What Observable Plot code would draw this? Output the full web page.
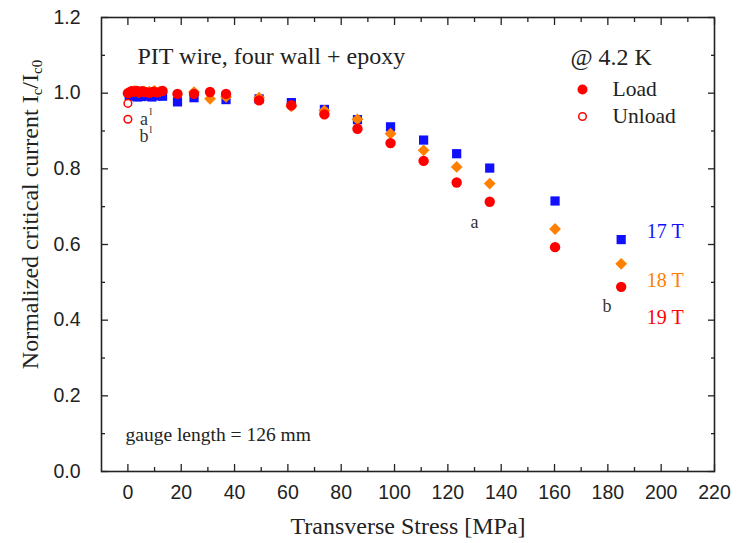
<!DOCTYPE html>
<html>
<head>
<meta charset="utf-8">
<script src="https://cdn.jsdelivr.net/npm/d3@7"></script>
<script src="https://cdn.jsdelivr.net/npm/@observablehq/plot@0.6"></script>
<style>
  body { margin: 0; background: #fff; }
  #chart svg { display: block; }
</style>
</head>
<body>
<div id="chart"></div>
<script>
// Normalized critical current vs. transverse stress, PIT wire (four wall + epoxy), 4.2 K

// 17 T (load)
const stress17 = [0.5, 2, 3.5, 5, 7, 9, 11, 13, 18.6, 24.8, 36.8, 49.2, 61.3, 73.7, 86.1, 98.5, 110.9, 123.3, 135.7, 160.2, 185.0];
const ic17     = [0.994, 0.992, 0.990, 0.991, 0.992, 0.990, 0.993, 0.992, 0.977, 0.988, 0.983, 0.985, 0.975, 0.957, 0.930, 0.911, 0.876, 0.840, 0.802, 0.715, 0.613];

// 18 T (load)
const stress18 = [1, 2.5, 4, 6, 8, 10, 12, 24.8, 30.8, 36.8, 49.2, 61.3, 73.7, 86.1, 98.5, 110.9, 123.3, 135.7, 160.2, 185.0];
const ic18     = [1.004, 1.006, 1.003, 1.005, 1.004, 1.006, 1.005, 1.003, 0.985, 0.990, 0.988, 0.965, 0.954, 0.931, 0.893, 0.849, 0.805, 0.761, 0.641, 0.549];

// 19 T (load)
const stress19 = [0, 0.8, 1.6, 2.5, 3.4, 4.3, 5.3, 6.5, 8, 9.5, 11, 13, 18.6, 24.8, 30.8, 36.8, 49.2, 61.3, 73.7, 86.1, 98.5, 110.9, 123.3, 135.7, 160.2, 185.0];
const ic19     = [1.000, 1.003, 1.005, 1.004, 1.006, 1.002, 1.005, 1.003, 1.001, 1.004, 1.002, 1.006, 0.998, 0.998, 1.003, 0.998, 0.981, 0.968, 0.944, 0.906, 0.868, 0.821, 0.764, 0.713, 0.593, 0.488];

// unload points (19 T)
const stressUnload = [0, 0];
const icUnload     = [0.973, 0.931];

// field labels
const fieldNames  = ["17 T", "18 T", "19 T"];
const fieldColors = ["#1010ff", "#ff8000", "#ff0000"];
const fieldLabelX = [201.5, 201.5, 201.5];
const fieldLabelY = [0.634, 0.505, 0.408];

// point labels
const pointNames = ["a", "b", "a", "b"];
const pointX     = [130, 179.7, 6, 6];
const pointY     = [0.658, 0.437, 0.932, 0.885];

// axis ticks
const xMajor = d3.range(0, 221, 20);
const xMinor = d3.range(10, 221, 20);
const yMajor = d3.range(0, 1.21, 0.2);
const yMinor = d3.range(0.1, 1.2, 0.2);

const yTitle = "Normalized critical current Ic/Ic0";

const toRows = (xs, ys) => xs.map((x, i) => ({x, y: ys[i]}));
const s17 = toRows(stress17, ic17);
const s18 = toRows(stress18, ic18);
const s19 = toRows(stress19, ic19);
const unload = toRows(stressUnload, icUnload);
const fieldRows = fieldNames.map((t, i) => ({t, x: fieldLabelX[i], y: fieldLabelY[i], c: fieldColors[i]}));
const pointRows = pointNames.map((t, i) => ({t, x: pointX[i], y: pointY[i]}));

// diamond drawn as a square turned 45 degrees
const diamond = {
  draw(context, size) {
    const h = Math.sqrt(size / 2);
    context.moveTo(0, -h);
    context.lineTo(h, 0);
    context.lineTo(0, h);
    context.lineTo(-h, 0);
    context.closePath();
  }
};

const ink = "#222";
const serif = "Liberation Serif";
const fmt = d3.format(".1f");
const tickStyle = {label: null, stroke: ink, strokeWidth: 1.3, fontSize: 19.5};
const blank = () => "";
const note = {lineAnchor: "middle", textAnchor: "start", fontFamily: serif, fill: ink};

const chart = Plot.plot({
  width: 741,
  height: 543,
  marginLeft: 101,
  marginRight: 27,
  marginTop: 17,
  marginBottom: 72,
  style: {fontFamily: "Liberation Sans", fontSize: "19.5px", color: ink, background: "#fff"},
  x: {domain: [-9.9, 220], label: null},
  y: {domain: [0, 1.2], label: null},
  marks: [
    // tick marks on all four sides, pointing inward
    Plot.axisX(xMajor, {anchor: "bottom", tickSize: -7, tickPadding: 21, ...tickStyle}),
    Plot.axisX(xMinor, {anchor: "bottom", tickSize: -4, tickFormat: blank, ...tickStyle}),
    Plot.axisX(xMajor, {anchor: "top", tickSize: -7, tickFormat: blank, ...tickStyle}),
    Plot.axisX(xMinor, {anchor: "top", tickSize: -4, tickFormat: blank, ...tickStyle}),
    Plot.axisY(yMajor, {anchor: "left", tickSize: -7, tickPadding: 28, tickFormat: fmt, ...tickStyle}),
    Plot.axisY(yMinor, {anchor: "left", tickSize: -4, tickFormat: blank, ...tickStyle}),
    Plot.axisY(yMajor, {anchor: "right", tickSize: -7, tickFormat: blank, ...tickStyle}),
    Plot.axisY(yMinor, {anchor: "right", tickSize: -4, tickFormat: blank, ...tickStyle}),
    Plot.frame({stroke: ink, strokeWidth: 1.6}),

    // data
    Plot.dot(s17, {x: "x", y: "y", symbol: "square", r: 5.2, fill: fieldColors[0]}),
    Plot.dot(s18, {x: "x", y: "y", symbol: diamond, r: 4.7, fill: fieldColors[1]}),
    Plot.dot(s19, {x: "x", y: "y", r: 5.2, fill: fieldColors[2]}),
    Plot.dot(unload, {x: "x", y: "y", r: 3.8, fill: "#fff", stroke: fieldColors[2], strokeWidth: 1.5}),

    // annotations
    Plot.text(fieldRows, {x: "x", y: "y", text: "t", fill: "c", fontFamily: serif, fontSize: 20}),
    Plot.text(pointRows, {x: "x", y: "y", text: "t", fill: "#333", fontFamily: serif, fontSize: 18}),
    Plot.text(pointRows.slice(2), {x: "x", y: "y", text: () => "l", fill: "#333", fontFamily: serif, fontSize: 11, dx: 7, dy: -7}),

    // title block and legend
    Plot.text(["PIT wire, four wall + epoxy"], {...note, frameAnchor: "top-left", dx: 36, dy: 39, fontSize: 24}),
    Plot.text(["@ 4.2 K"], {...note, frameAnchor: "top-right", dx: -144, dy: 40, fontSize: 24}),
    Plot.dot([0], {frameAnchor: "top-right", dx: -132, dy: 72, r: 5, fill: fieldColors[2]}),
    Plot.dot([0], {frameAnchor: "top-right", dx: -132, dy: 99, r: 3.8, fill: "#fff", stroke: fieldColors[2], strokeWidth: 1.5}),
    Plot.text(["Load"], {...note, frameAnchor: "top-right", dx: -102, dy: 72, fontSize: 21.5}),
    Plot.text(["Unload"], {...note, frameAnchor: "top-right", dx: -102, dy: 99, fontSize: 21.5}),
    Plot.text(["gauge length = 126 mm"], {...note, frameAnchor: "bottom-left", dx: 24, dy: -37, fontSize: 19.5}),

    // axis titles
    Plot.text(["Transverse Stress [MPa]"], {...note, textAnchor: "middle", frameAnchor: "bottom", dx: 0, dy: 55, fontSize: 24}),
    Plot.text([yTitle], {...note, textAnchor: "middle", frameAnchor: "left", dx: -71, dy: -30, rotate: -90, fontSize: 24})
  ]
});

// subscripts in the y-axis title
d3.select(chart).selectAll("text")
  .filter(function () { return this.textContent === yTitle; })
  .each(function () {
    const t = d3.select(this).text(null);
    t.append("tspan").text("Normalized critical current I");
    t.append("tspan").attr("font-size", 15).attr("baseline-shift", "-25%").text("c");
    t.append("tspan").text("/I");
    t.append("tspan").attr("font-size", 15).attr("baseline-shift", "-25%").text("c0");
  });

document.getElementById("chart").append(chart);
</script>
</body>
</html>
